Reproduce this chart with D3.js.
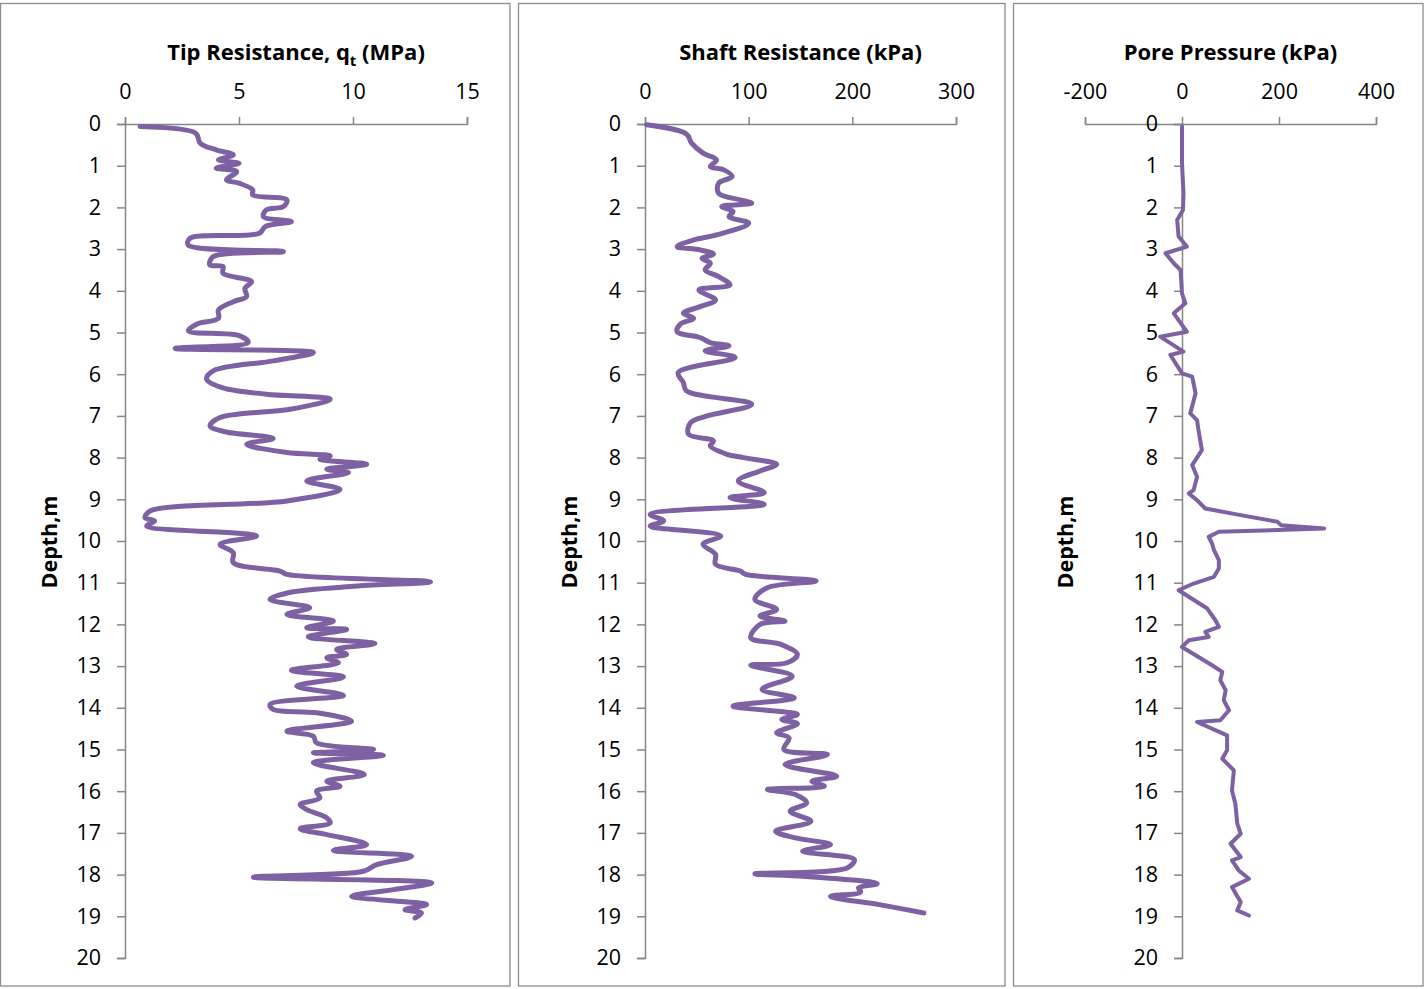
<!DOCTYPE html>
<html>
<head>
<meta charset="utf-8">
<script src="https://cdn.jsdelivr.net/npm/d3@7"></script>
<style>
  html, body { margin: 0; padding: 0; background: #fff; }
  svg { display: block; }
  text { font-family: "Open Sans", "Liberation Sans", sans-serif; fill: #000; }
</style>
</head>
<body>
<svg id="chart" width="1424" height="989"></svg>
<script>
// CPT sounding profiles: [depth (m), value]
const tipResistance = [
  [0.06,0.66],[0.22,3.1],[0.46,3.3],[0.62,4.0],[0.74,4.75],[0.86,4.1],[0.94,5.0],[1.06,4.0],
  [1.14,4.9],[1.34,4.45],[1.42,5.0],[1.58,5.6],[1.70,5.6],[1.82,7.1],[1.98,6.95],[2.06,6.2],
  [2.22,6.07],[2.34,7.3],[2.46,6.15],[2.62,5.9],[2.74,2.85],[2.90,2.77],[3.06,6.95],[3.18,3.87],
  [3.38,3.72],[3.42,4.3],[3.58,4.3],[3.78,5.55],[3.94,5.26],[4.14,5.33],[4.26,4.75],[4.46,4.1],
  [4.66,4.1],[4.80,3.14],[4.96,2.78],[5.08,5.04],[5.24,5.4],[5.38,2.2],[5.48,8.26],[5.68,6.5],
  [5.92,3.87],[6.12,3.58],[6.33,4.3],[6.48,6.2],[6.60,9.0],[6.84,7.24],[7.04,4.17],[7.24,3.73],
  [7.38,4.39],[7.54,6.5],[7.68,5.34],[7.88,7.1],[7.96,9.0],[8.04,8.55],[8.16,10.6],[8.28,8.85],
  [8.36,9.8],[8.56,7.97],[8.76,9.43],[9.04,7.1],[9.28,1.1],[9.44,0.88],[9.52,1.3],[9.64,0.95],
  [9.88,5.77],[10.08,4.17],[10.28,4.75],[10.52,4.75],[10.72,6.8],[10.80,7.1],[10.98,13.4],[11.08,10.2],
  [11.24,7.16],[11.40,6.36],[11.60,8.1],[11.76,7.1],[11.92,9.14],[12.08,7.97],[12.12,9.72],[12.30,8.04],
  [12.46,10.96],[12.60,9.28],[12.72,9.72],[12.80,8.85],[12.92,9.36],[13.10,7.3],[13.26,9.58],[13.48,7.53],
  [13.70,9.58],[13.92,6.36],[14.04,6.5],[14.12,8.4],[14.32,9.94],[14.56,7.1],[14.68,8.26],[14.84,8.4],
  [15.00,10.9],[15.08,8.26],[15.14,11.33],[15.32,8.26],[15.60,10.5],[15.76,8.85],[15.88,9.43],[16.00,8.4],
  [16.16,8.55],[16.32,7.68],[16.44,7.97],[16.64,8.85],[16.76,9.0],[16.90,7.68],[17.04,8.85],[17.28,10.6],
  [17.42,9.14],[17.56,12.57],[17.76,11.04],[17.92,10.45],[18.06,5.63],[18.20,13.45],[18.36,11.77],[18.52,9.94],
  [18.72,13.23],[18.84,12.28],[18.92,13.0],[19.04,12.72]
];

const shaftResistance = [
  [0.02,1.6],[0.24,40],[0.46,45],[0.70,56],[0.86,69],[1.02,63],[1.10,76],[1.26,84],
  [1.42,71],[1.66,71],[1.82,92],[1.90,103],[1.98,74],[2.10,85],[2.22,81],[2.38,100],
  [2.66,69],[2.78,47],[2.94,31],[3.02,53],[3.12,66],[3.22,55],[3.34,63],[3.50,58],
  [3.66,71],[3.86,82],[3.98,52],[4.22,68],[4.38,53],[4.54,37],[4.66,47],[4.80,34],
  [4.98,31],[5.12,53],[5.24,63],[5.32,81],[5.44,58],[5.60,87],[5.96,32],[6.20,37],
  [6.40,40],[6.72,103],[7.00,60],[7.16,44],[7.44,42],[7.60,66],[7.72,63],[7.92,79],
  [8.00,95],[8.16,127],[8.32,111],[8.56,90],[8.84,115],[8.96,82],[9.12,115],[9.36,5],
  [9.52,18],[9.64,5],[9.88,73],[10.08,56],[10.32,68],[10.56,68],[10.72,92],[10.80,97],
  [10.96,165],[11.12,118],[11.40,106],[11.64,127],[11.80,111],[11.92,135],[12.00,111],[12.32,102],
  [12.48,131],[12.72,147],[12.92,137],[12.98,102],[13.24,142],[13.56,113],[13.76,144],[13.96,85],
  [14.16,147],[14.28,132],[14.38,147],[14.60,127],[14.72,139],[15.00,134],[15.12,176],[15.36,135],
  [15.64,185],[15.76,161],[15.88,173],[15.96,118],[16.08,145],[16.28,156],[16.48,140],[16.72,160],
  [16.96,126],[17.12,145],[17.28,179],[17.44,152],[17.64,202],[17.84,195],[17.98,106],[18.04,153],
  [18.22,224],[18.32,206],[18.42,208],[18.52,179],[18.72,226],[18.92,269]
];

const porePressure = [
  [0.06,0],[0.94,0],[1.66,3],[2.06,2],[2.30,-10],[2.70,-7],[2.94,10],[3.10,-34],
  [3.34,-17],[3.50,-3],[4.06,0],[4.30,7],[4.54,-17],[4.98,10],[5.10,-45],[5.46,3],
  [5.54,-24],[5.98,0],[6.06,21],[6.46,28],[6.94,17],[7.10,31],[7.34,34],[7.82,41],
  [8.18,21],[8.46,31],[8.78,24],[8.86,14],[9.02,31],[9.22,48],[9.38,121],[9.54,197],
  [9.62,204],[9.70,293],[9.78,76],[9.90,55],[10.06,62],[10.22,66],[10.46,76],[10.66,76],
  [10.86,66],[11.02,24],[11.18,-7],[11.62,52],[11.90,69],[12.06,76],[12.18,48],[12.30,55],
  [12.38,14],[12.54,0],[12.98,62],[13.14,83],[13.34,79],[13.58,90],[13.82,86],[14.06,97],
  [14.30,79],[14.34,31],[14.66,93],[15.02,93],[15.22,83],[15.50,107],[15.98,103],[16.30,110],
  [16.78,114],[17.02,121],[17.26,100],[17.58,121],[17.66,103],[17.90,117],[18.10,138],[18.30,103],
  [18.66,121],[18.86,114],[18.98,138]
];

const depthTicks = d3.range(0, 21, 1);
const tipTicks = [0, 5, 10, 15];
const shaftTicks = [0, 100, 200, 300];
const poreTicks = [-200, 0, 200, 400];

const panels = [
  { title: "tip", data: tipResistance, domain: [0, 15], ticks: tipTicks,
    box: [0.5, 3.5, 510, 986], plot: [125, 467], ylab: 50,
    curve: d3.curveCatmullRom.alpha(0.5), width: 5 },
  { title: "Shaft Resistance (kPa)", data: shaftResistance, domain: [0, 300], ticks: shaftTicks,
    box: [518.5, 3.5, 1005, 986], plot: [645, 956], ylab: 570,
    curve: d3.curveCatmullRom.alpha(0.5), width: 5 },
  { title: "Pore Pressure (kPa)", data: porePressure, domain: [-200, 400], ticks: poreTicks,
    box: [1013.5, 3.5, 1423, 986], plot: [1085, 1376], ylab: 1066,
    curve: d3.curveLinear, width: 4 }
];

const svg = d3.select("#chart");
const axisColor = "#868686";
const lineColor = "#7D61A2";
const fmt = d => String(d);
const y = d3.scaleLinear().domain([0, 20]).range([124, 958]);

panels.forEach(p => {
  const g = svg.append("g");
  // panel frame
  g.append("rect")
    .attr("x", p.box[0]).attr("y", p.box[1])
    .attr("width", p.box[2] - p.box[0]).attr("height", p.box[3] - p.box[1])
    .attr("fill", "none").attr("stroke", "#8c8c8c").attr("stroke-width", 1.3);

  const x = d3.scaleLinear().domain(p.domain).range(p.plot);
  const yx = x(0);

  // top value axis
  const xAxis = d3.axisTop(x).tickValues(p.ticks).tickSize(7).tickSizeOuter(7).tickPadding(18)
    .tickFormat(fmt);
  const xa = g.append("g").attr("transform", `translate(0,${y(0)})`).call(xAxis);
  xa.select(".domain").attr("stroke", axisColor).attr("stroke-width", 1.5);
  xa.selectAll(".tick line").attr("stroke", axisColor).attr("stroke-width", 1.5);
  xa.selectAll(".tick text").attr("font-size", 21.5).attr("font-family", "Open Sans, sans-serif")
    .attr("fill", "#000");

  // depth axis
  const yAxis = d3.axisLeft(y).tickValues(depthTicks).tickSize(8).tickSizeOuter(8).tickPadding(16)
    .tickFormat(fmt);
  const ya = g.append("g").attr("transform", `translate(${yx},0)`).call(yAxis);
  ya.select(".domain").attr("stroke", axisColor).attr("stroke-width", 1.5);
  ya.selectAll(".tick line").attr("stroke", axisColor).attr("stroke-width", 1.5);
  ya.selectAll(".tick text").attr("font-size", 21.5).attr("font-family", "Open Sans, sans-serif")
    .attr("fill", "#000");

  // title
  const cx = (p.plot[0] + p.plot[1]) / 2;
  const t = g.append("text").attr("x", cx).attr("y", 60).attr("text-anchor", "middle")
    .attr("font-size", 22).attr("font-weight", "bold");
  if (p.title === "tip") {
    t.append("tspan").text("Tip Resistance, q");
    t.append("tspan").attr("font-size", 15).attr("dy", 6).text("t");
    t.append("tspan").attr("dy", -6).text(" (MPa)");
  } else {
    t.text(p.title);
  }

  // depth label
  g.append("text")
    .attr("transform", `translate(${p.ylab + 7},542) rotate(-90)`)
    .attr("text-anchor", "middle").attr("font-size", 21.5).attr("font-weight", "bold")
    .text("Depth,m");

  // profile line
  const line = d3.line().x(d => x(d[1])).y(d => y(d[0])).curve(p.curve);
  g.append("path").datum(p.data).attr("d", line)
    .attr("fill", "none").attr("stroke", lineColor).attr("stroke-width", p.width)
    .attr("stroke-linejoin", "round").attr("stroke-linecap", "round");
});
</script>
</body>
</html>
